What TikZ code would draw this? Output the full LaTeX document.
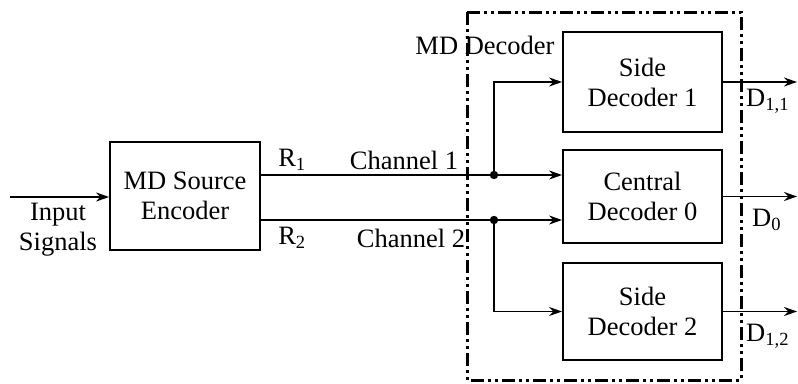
\documentclass[tikz,border=0pt]{standalone}
\usepackage{fontspec}
\setmainfont{Liberation Serif}
\usetikzlibrary{arrows.meta}

\begin{document}
\begin{tikzpicture}[x=1pt, y=-1pt,
    block/.style={draw, line width=1.8pt, align=center, inner sep=0pt,
        font=\fontsize{26.5}{30}\selectfont},
    lbl/.style={font=\fontsize{26.5}{30}\selectfont, align=center, inner sep=0pt},
    wire/.style={line width=1.8pt},
    flow/.style={line width=1.8pt, -{Stealth[length=13pt, width=9pt]}}]
    \definecolor{borderColour}{HTML}{000000}

    \def\rightEnd{797}

    \useasboundingbox (0,0) rectangle (798,383);

    % Encoder and decoders
    \node[block, minimum width=150pt, minimum height=108pt] (enc) at (185,196) {MD Source\\Encoder};
    \node[block, minimum width=159pt, minimum height=100pt] (sd1) at (642.5,82) {Side\\Decoder 1};
    \node[block, minimum width=159pt, minimum height=93pt] (cen) at (642.5,196.5) {Central\\Decoder 0};
    \node[block, minimum width=159pt, minimum height=97pt] (sd2) at (642.5,311.5) {Side\\Decoder 2};

    % MD decoder frame
    \draw[borderColour, line width=3pt,
        dash pattern=on 13pt off 4pt on 3pt off 4pt on 3pt off 4pt]
        (467,12) rectangle (741,380);
    \node[lbl] (mdd) at (485,45) {MD Decoder};

    % Input
    \coordinate (src) at (10,197);
    \draw[flow] (src) -- (enc.west |- src);
    \node[lbl] (insig) at (58,230) {Input\\Signals};

    % Channels
    \coordinate (j1) at (494,175);
    \coordinate (j2) at (494,220);
    \draw[flow] (enc.east |- j1) -- (cen.west |- j1);
    \draw[flow] (enc.east |- j2) -- (cen.west |- j2);
    \draw[flow] (j1) |- (sd1.west);
    \draw[flow] (j2) |- (sd2.west);
    \fill (j1) circle (4.2pt);
    \fill (j2) circle (4.2pt);

    \node[lbl] (r1) at (292,160) {R\textsubscript{1}};
    \node[lbl] (r2) at (292,238) {R\textsubscript{2}};
    \node[lbl] (ch1) at (404,160) {Channel 1};
    \node[lbl] (ch2) at (411,238) {Channel 2};

    % Outputs
    \draw[flow] (sd1.east) -- (\rightEnd,82);
    \draw[flow] (cen.east) -- (\rightEnd,196.5);
    \draw[flow] (sd2.east) -- (\rightEnd,311.5);
    \node[lbl, anchor=west] (d11) at (746,101) {D\textsubscript{1,1}};
    \node[lbl, anchor=west] (d0) at (752,220) {D\textsubscript{0}};
    \node[lbl, anchor=west] (d12) at (746,336) {D\textsubscript{1,2}};

\end{tikzpicture}
\end{document}
